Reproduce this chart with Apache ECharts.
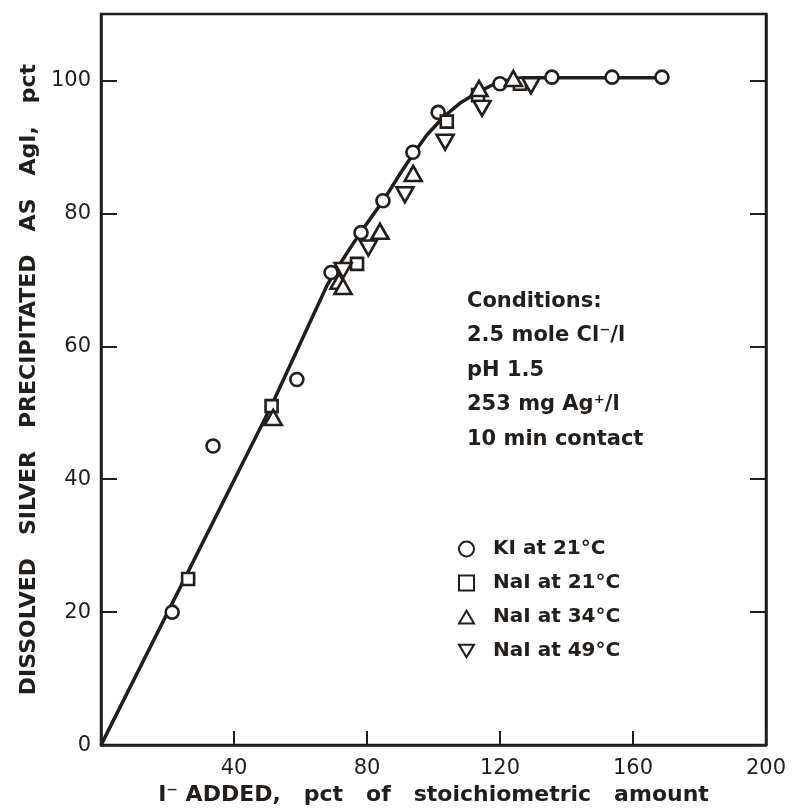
<!DOCTYPE html>
<html><head><meta charset="utf-8">
<script src="https://cdn.jsdelivr.net/npm/echarts@6/dist/echarts.min.js"></script>
<style>html,body{margin:0;padding:0;background:#fff}#c{width:799px;height:811px}</style>
</head><body><div id="c"></div>
<script>
// ---- data ----
const xTicks = [0, 40, 80, 120, 160, 200];
const yTicks = [0, 20, 40, 60, 80, 100];
const curveX = [0, 51, 68, 72, 76, 80, 85, 90, 94, 98, 103, 108, 114, 118, 122, 127, 168.7];
const curveY = [0, 50.8, 69.2, 72.5, 75.6, 78.5, 82, 86, 89, 91.8, 94.5, 96.6, 98.4, 99.4, 100, 100.4, 100.4];
const ki21X = [21.4, 33.7, 58.9, 69.2, 78.2, 84.8, 93.8, 101.4, 120, 135.6, 153.7, 168.7];
const ki21Y = [20, 45, 55, 71.1, 77.1, 81.9, 89.2, 95.2, 99.5, 100.5, 100.5, 100.5];
const nai21X = [26.2, 51.3, 77, 104, 113.4, 126];
const nai21Y = [25, 51, 72.4, 93.8, 97.8, 99.5];
const nai34X = [51.8, 71.6, 72.8, 83.9, 93.9, 113.7, 124];
const nai34Y = [49.3, 69.8, 69, 77.3, 86, 98.8, 100.3];
const nai49X = [72.8, 80.4, 91.4, 103.5, 114.6, 129.3];
const nai49Y = [71.4, 74.8, 82.8, 90.7, 95.8, 99.2];
const seriesNames = ['KI at 21°C', 'NaI at 21°C', 'NaI at 34°C', 'NaI at 49°C'];
const conditions = ['Conditions:', '2.5 mole Cl⁻/l', 'pH 1.5', '253 mg Ag⁺/l', '10 min contact'];
const xTitle = 'I⁻ ADDED,   pct   of   stoichiometric   amount';
const yTitle = 'DISSOLVED   SILVER   PRECIPITATED   AS   AgI,   pct';

const zip = (a, b) => a.map((v, i) => [v, b[i]]);
const INK = '#221e1b';
const FONT = 'DejaVu Sans';
const markerStyle = { color: '#fff', borderColor: INK, borderWidth: 2.6, opacity: 1 };
const invTri = 'path://M0,0 L20,0 L10,17 Z';
const upTri = 'path://M10,0 L20,17 L0,17 Z';

const chart = echarts.init(document.getElementById('c'), null, { renderer: 'canvas' });
chart.setOption({
  backgroundColor: '#fff',
  animation: false,
  grid: { left: 101, right: 33, top: 14, bottom: 64, show: true, borderColor: INK, borderWidth: 2.5, backgroundColor: 'transparent' },
  xAxis: {
    type: 'value', min: xTicks[0], max: xTicks[xTicks.length - 1], interval: 40,
    axisLine: { lineStyle: { color: INK, width: 2.5 } },
    axisTick: { inside: true, length: 14, lineStyle: { color: INK, width: 2 } },
    axisLabel: { color: INK, fontFamily: FONT, fontSize: 21, margin: 13, formatter: v => v === 0 ? '' : String(v) },
    splitLine: { show: false },
    name: xTitle, nameLocation: 'middle', nameGap: 38,
    nameTextStyle: { color: INK, fontFamily: FONT, fontWeight: 'bold', fontSize: 22 }
  },
  yAxis: [{
    type: 'value', min: yTicks[0], max: 110, interval: 20,
    axisLine: { lineStyle: { color: INK, width: 2.5 } },
    axisTick: { inside: true, length: 16, lineStyle: { color: INK, width: 2 } },
    axisLabel: { color: INK, fontFamily: FONT, fontSize: 21, margin: 10, formatter: v => yTicks.includes(v) ? String(v) : '' },
    splitLine: { show: false },
    name: yTitle, nameLocation: 'middle', nameGap: 58,
    nameTextStyle: { color: INK, fontFamily: FONT, fontWeight: 'bold', fontSize: 22 }
  }, {
    type: 'value', position: 'right', min: yTicks[0], max: 110, interval: 20,
    axisLine: { show: true, lineStyle: { color: INK, width: 2.5 } },
    axisTick: { inside: true, length: 16, lineStyle: { color: INK, width: 2 } },
    axisLabel: { show: false }, splitLine: { show: false }
  }],
  legend: {
    orient: 'vertical', left: 453, top: 533, itemWidth: 15, itemHeight: 15, itemGap: 12,
    selectedMode: false,
    textStyle: { color: INK, fontFamily: FONT, fontWeight: 'bold', fontSize: 20, lineHeight: 22, padding: [0, 0, 0, 14] },
    data: [
      { name: seriesNames[0], icon: 'circle' },
      { name: seriesNames[1], icon: 'rect' },
      { name: seriesNames[2], icon: upTri },
      { name: seriesNames[3], icon: invTri }
    ]
  },
  graphic: conditions.map((t, i) => ({
    type: 'text', left: 467, top: 291 + i * 34.5,
    style: { text: t, fill: INK, font: 'bold 21px "DejaVu Sans"' }
  })),
  series: [
    { type: 'line', name: 'curve', data: zip(curveX, curveY), showSymbol: false, smooth: false,
      lineStyle: { color: INK, width: 3.5 }, z: 2, silent: true },
    { type: 'scatter', name: seriesNames[0], data: zip(ki21X, ki21Y), symbol: 'circle', symbolSize: 13, itemStyle: markerStyle, z: 3 },
    { type: 'scatter', name: seriesNames[1], data: zip(nai21X, nai21Y), symbol: 'rect', symbolSize: 12, itemStyle: markerStyle, z: 3 },
    { type: 'scatter', name: seriesNames[2], data: zip(nai34X, nai34Y), symbol: upTri, symbolSize: [17, 15], itemStyle: markerStyle, z: 3 },
    { type: 'scatter', name: seriesNames[3], data: zip(nai49X, nai49Y), symbol: invTri, symbolSize: [17, 15], itemStyle: markerStyle, z: 3 }
  ]
});
</script>
</body></html>
